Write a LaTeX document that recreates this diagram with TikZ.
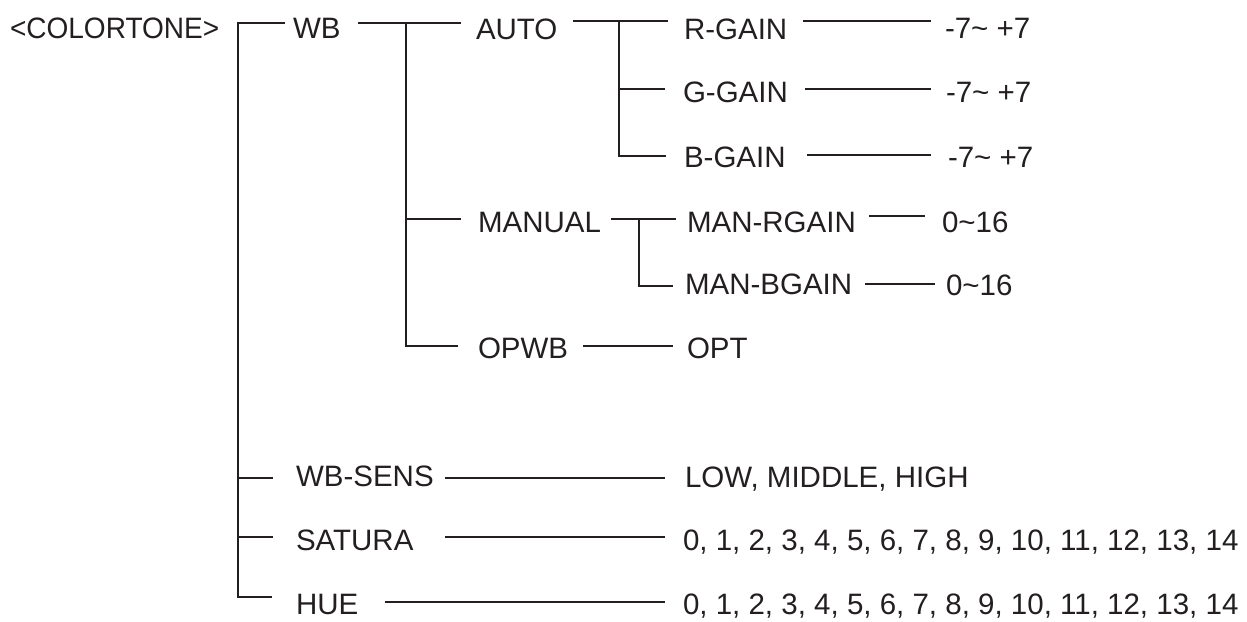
\documentclass[tikz,border=0pt]{standalone}
\usepackage{fontspec}
\setmainfont{Liberation Sans}
\definecolor{ink}{HTML}{231F20}
\begin{document}
\begin{tikzpicture}[x=1pt,y=-1pt,
  lbl/.style={anchor=base west,inner sep=0pt,outer sep=0pt,text=ink,font=\fontsize{29.5}{32}\selectfont},
  wire/.style={draw=ink,line width=2.5pt,line join=miter}]
\useasboundingbox (0,0) rectangle (1247,621);
% text nodes
\node[lbl] (root) at (10,38) {\scalebox{0.95}[1]{<COLORTONE>}};
\node[lbl] (wb) at (293,38) {WB};
\node[lbl] (auto) at (476,39) {AUTO};
\node[lbl] (rg) at (684,39) {R-GAIN};
\node[lbl] (gg) at (683,102) {G-GAIN};
\node[lbl] (bg) at (684,167) {B-GAIN};
\node[lbl] (rgv) at (945,38) {-7\textasciitilde\ +7};
\node[lbl] (ggv) at (946,102) {-7\textasciitilde\ +7};
\node[lbl] (bgv) at (948,167) {-7\textasciitilde\ +7};
\node[lbl] (man) at (478,232) {MANUAL};
\node[lbl] (mr) at (687,232) {MAN-RGAIN};
\node[lbl] (mb) at (685,294) {MAN-BGAIN};
\node[lbl] (mrv) at (942,232) {0\textasciitilde16};
\node[lbl] (mbv) at (946,295) {0\textasciitilde16};
\node[lbl] (opwb) at (478,358) {OPWB};
\node[lbl] (opt) at (687,358) {OPT};
\node[lbl] (sens) at (296,486) {WB-SENS};
\node[lbl] (sat) at (296,550) {SATURA};
\node[lbl] (hue) at (296,614) {HUE};
\node[lbl] (sensv) at (685,487) {LOW, MIDDLE, HIGH};
\node[lbl] (satv) at (683,550) {0, 1, 2, 3, 4, 5, 6, 7, 8, 9, 10, 11, 12, 13, 14};
\node[lbl] (huev) at (683,614) {0, 1, 2, 3, 4, 5, 6, 7, 8, 9, 10, 11, 12, 13, 14};
% connector end points
\coordinate (rootT) at (285,23);
\coordinate (rootC) at (238,23);
\coordinate (rootB) at (238,597);
\coordinate (hueL) at (272,597);
\coordinate (wbR) at (358,23);
\coordinate (wbC) at (406,23);
\coordinate (wbB) at (406,346);
\coordinate (autoL) at (461,23);
\coordinate (opwbL) at (458,346);
\coordinate (autoR) at (573,21);
\coordinate (autoC) at (619,21);
\coordinate (autoB) at (619,156);
\coordinate (rgL) at (668,21);
\coordinate (ggL) at (665,89);
\coordinate (bgL) at (666,156);
\coordinate (rgR) at (803,21);
\coordinate (rgvL) at (931,21);
\coordinate (ggR) at (805,89);
\coordinate (ggvL) at (931,89);
\coordinate (bgR) at (807,155);
\coordinate (bgvL) at (931,155);
\coordinate (manC0) at (406,219);
\coordinate (manL) at (461,219);
\coordinate (manR) at (611,219);
\coordinate (manC) at (639,219);
\coordinate (manB) at (639,286);
\coordinate (mrL) at (676,219);
\coordinate (mbL) at (673,286);
\coordinate (mrR) at (869,216);
\coordinate (mrvL) at (925,216);
\coordinate (mbR) at (865,284);
\coordinate (mbvL) at (935,284);
\coordinate (opwbR) at (583,346);
\coordinate (optL) at (673,346);
\coordinate (sensC) at (238,478);
\coordinate (sensL) at (273,478);
\coordinate (satC) at (238,537);
\coordinate (satL) at (273,537);
\coordinate (sensR) at (445,478);
\coordinate (sensvL) at (665,478);
\coordinate (satR) at (445,537);
\coordinate (satvL) at (665,537);
\coordinate (hueR) at (385,602);
\coordinate (huevL) at (665,602);
% connectors
\draw[wire] (rootT) -- (rootC) -- (rootB) -- (hueL);
\draw[wire] (sensC) -- (sensL);
\draw[wire] (satC) -- (satL);
\draw[wire] (wbR) -- (autoL);
\draw[wire] (wbC) -- (wbB) -- (opwbL);
\draw[wire] (manC0) -- (manL);
\draw[wire] (autoR) -- (rgL);
\draw[wire] (autoC) -- (autoB) -- (bgL);
\draw[wire] (autoC |- ggL) -- (ggL);
\draw[wire] (rgR) -- (rgvL);
\draw[wire] (ggR) -- (ggvL);
\draw[wire] (bgR) -- (bgvL);
\draw[wire] (manR) -- (mrL);
\draw[wire] (manC) -- (manB) -- (mbL);
\draw[wire] (mrR) -- (mrvL);
\draw[wire] (mbR) -- (mbvL);
\draw[wire] (opwbR) -- (optL);
\draw[wire] (sensR) -- (sensvL);
\draw[wire] (satR) -- (satvL);
\draw[wire] (hueR) -- (huevL);
\end{tikzpicture}
\end{document}
